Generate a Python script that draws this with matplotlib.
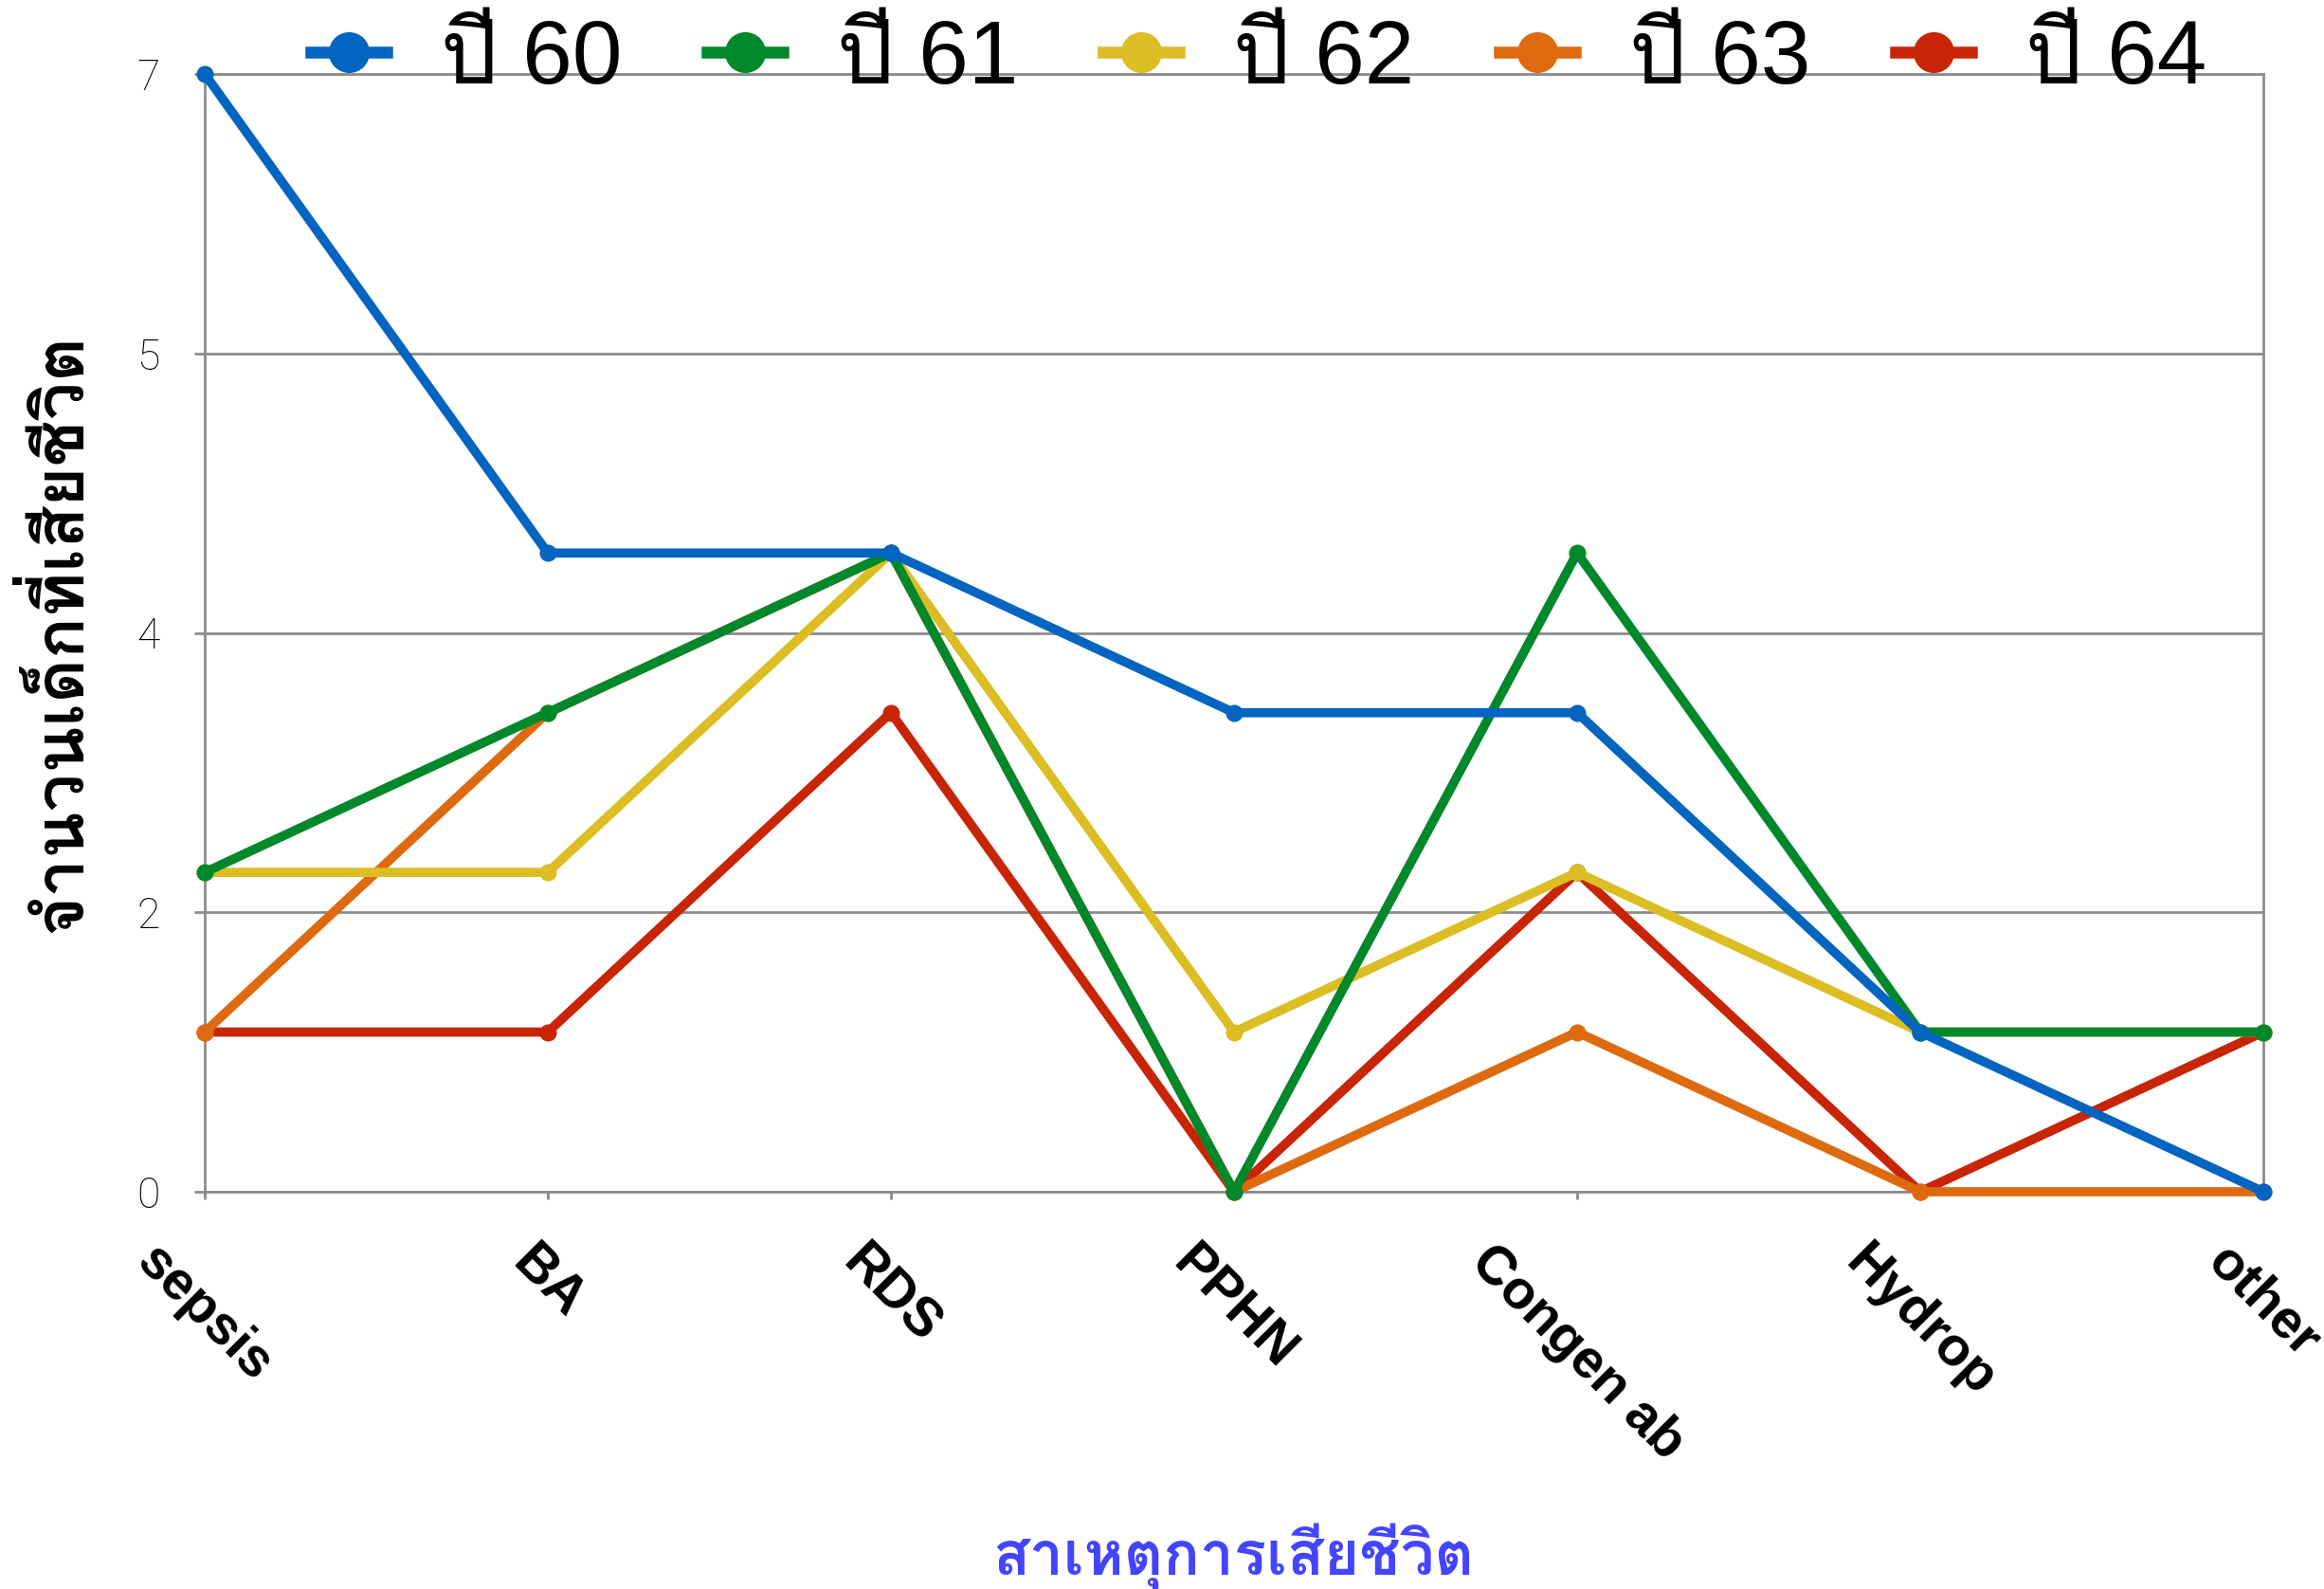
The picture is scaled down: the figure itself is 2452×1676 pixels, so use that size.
import matplotlib
matplotlib.use('Agg')
import matplotlib.pyplot as plt
import numpy as np

causes = ['sepsis', 'BA', 'RDS', 'PPHN', 'Congen ab', 'Hydrop', 'other']
years = ['ปี 60', 'ปี 61', 'ปี 62', 'ปี 63', 'ปี 64']
y60 = [7, 4, 4, 3, 3, 1, 0]
y61 = [2, 3, 4, 0, 4, 1, 1]
y62 = [2, 2, 4, 1, 2, 1, 1]
y63 = [1, 3, 4, 0, 1, 0, 0]
y64 = [1, 1, 3, 0, 2, 0, 1]
colors = ['#0365C0', '#00882B', '#DCBD23', '#DE6A10', '#C82506']
ytick_labels = ['0', '2', '4', '5', '7']

thai = ['Liberation Sans Narrow', 'Liberation Sans', 'Loma']

fig = plt.figure(figsize=(24.52, 16.76), dpi=100)
ax = fig.add_axes([216/2452, 1-1257/1676, (2388-216)/2452, (1257-78)/1676])

series = [y60, y61, y62, y63, y64]
x = np.arange(len(causes))
lines = []
for i in range(len(series)):
    l, = ax.plot(x, series[i], color=colors[i], lw=7, marker='o', ms=12,
                 label=years[i], zorder=10-i, clip_on=False)
    lines.append(l)

ax.set_xlim(0, 6)
ax.set_ylim(0, 7)
# ticks every 1.75, labels rounded like the original
ax.set_yticks(np.linspace(0, 7, 5))
ax.set_yticklabels(ytick_labels, fontsize=32, family='Roboto', fontweight='light')
ax.set_xticks(x)
ax.set_xticklabels(causes, fontsize=41, fontweight='bold', family='Liberation Sans',
                   rotation=-45, ha='center', va='top')
ax.tick_params(axis='x', length=6, width=2, color='#8c8c8c', pad=28)
ax.tick_params(axis='y', length=8, width=2, color='#8c8c8c', pad=26)
ax.grid(axis='y', color='#8c8c8c', lw=2)
ax.set_axisbelow(True)
for s in ax.spines.values():
    s.set_color('#8c8c8c')
    s.set_linewidth(2)

leg = fig.legend(handles=lines, loc='center', bbox_to_anchor=(0.5416, 0.962),
                 ncol=5, frameon=False, handlelength=0.85,
                 handletextpad=0.6, columnspacing=0.95,
                 prop={'family': thai, 'size': 68})
for h in leg.legend_handles:
    h.set_linewidth(9)
    h.set_markersize(30)

fig.text(62/2452, 1-668/1676, 'จำนวนเด็กที่เสียชีวิต', rotation=90, fontsize=52,
         fontweight='bold', family=['Loma'], ha='center', va='center')
fig.text(1301/2452, 1-1642/1676, 'สาเหตุการเสียชีวิต', fontsize=46, color='#4444FF',
         fontweight='bold', family=['Loma'], ha='center', va='center')

fig.savefig('out.png', dpi=100)
